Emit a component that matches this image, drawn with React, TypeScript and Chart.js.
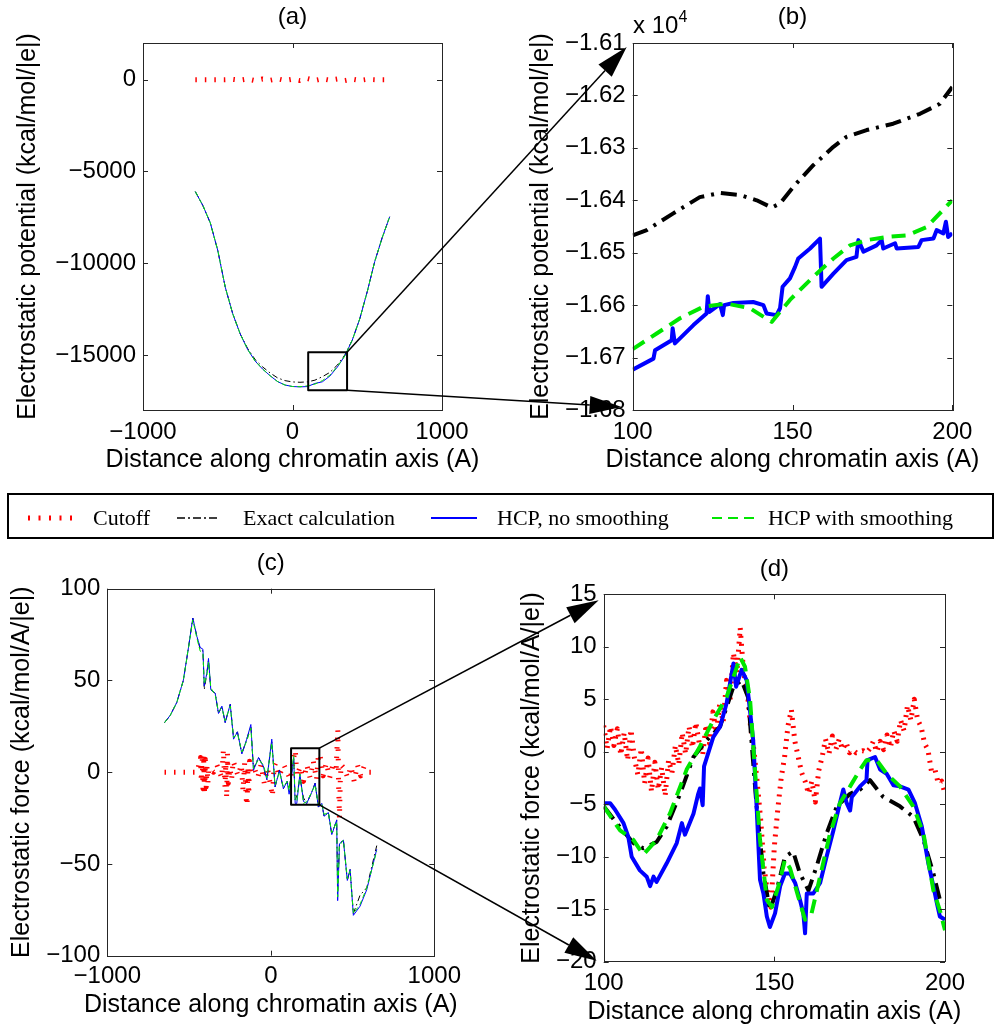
import React, { useEffect, useRef } from 'react';
import { Chart, registerables } from 'chart.js';

Chart.register(...registerables);

// ---------------- DATA ----------------
// Panel (a): potential, full range
const aX = [-650, -600, -550, -500, -450, -400, -350, -300, -250, -200, -150, -100, -50, 0, 50, 100, 150, 200, 250, 300, 350, 400, 450, 500, 550, 600, 650];
const aCut = [0, 0, 0, 0, 0, 20, -30, 40, -50, 40, -30, 50, -40, 30, -50, 60, -40, 50, -30, 40, -50, 30, -40, 20, 0, 0, 0];
const aExact = [-6100, -6850, -7800, -9300, -11300, -12750, -13850, -14650, -15250, -15650, -15980, -16250, -16400, -16470, -16490, -16467, -16374, -16184, -15950, -15550, -15000, -14190, -13030, -11550, -9910, -8610, -7470];
const aHcp = [-6100, -6850, -7800, -9300, -11300, -12750, -13850, -14700, -15330, -15770, -16130, -16450, -16640, -16720, -16740, -16723, -16555, -16463, -16150, -15660, -15050, -14190, -13030, -11550, -9910, -8610, -7470];
const aSmooth = [-6100, -6850, -7800, -9300, -11300, -12750, -13850, -14700, -15330, -15770, -16130, -16450, -16640, -16720, -16730, -16684, -16590, -16400, -16100, -15640, -15050, -14190, -13030, -11550, -9910, -8610, -7470];
const aRectX = [105, 365, 365, 105, 105];
const aRectY = [-16920, -16920, -14855, -14855, -16920];
const aXTicks = [-1000, 0, 1000];
const aYTicks = [0, -5000, -10000, -15000];

// Panel (b): potential, zoom 100..200
const bExactX = [100, 104.4, 112.7, 121, 127.3, 133.6, 138.8, 143.5, 146.1, 150.3, 156.5, 162.8, 166.9, 173.2, 181.5, 189.9, 196.1, 200];
const bExact = [-16467, -16457, -16425, -16394, -16386, -16390, -16400, -16414, -16406, -16374, -16333, -16298, -16279, -16266, -16254, -16235, -16216, -16184];
const bHcpX = [100, 106.5, 107, 112.2, 112.5, 113.2, 119, 123.1, 123.5, 124, 127.3, 128.2, 128.6, 131.5, 137.7, 140.9, 141.9, 145, 146.1, 146.9, 149.2, 150.8, 151.8, 155.5, 158.6, 159.1, 162.8, 166.9, 170, 170.6, 172.2, 176.3, 177.9, 178.4, 182.1, 182.6, 189.4, 190.4, 194.1, 195.1, 197.2, 198, 198.7, 200];
const bHcp = [-16723, -16702, -16686, -16667, -16644, -16673, -16638, -16616, -16583, -16613, -16598, -16619, -16600, -16596, -16594, -16600, -16616, -16619, -16606, -16565, -16549, -16527, -16511, -16492, -16473, -16565, -16540, -16514, -16508, -16476, -16498, -16486, -16476, -16492, -16482, -16492, -16489, -16476, -16473, -16457, -16463, -16441, -16470, -16463];
const bSmoothX = [100, 107.5, 114.8, 122.1, 129.4, 136.7, 143.5, 149.2, 156.5, 162.8, 168, 173.2, 179.5, 185.8, 192, 200];
const bSmooth = [-16684, -16654, -16625, -16603, -16597, -16606, -16632, -16590, -16546, -16511, -16486, -16476, -16470, -16467, -16451, -16400];
const bXTicks = [100, 150, 200];
const bYTicks = [-16100, -16200, -16300, -16400, -16500, -16600, -16700, -16800];

// Panel (c): force, full range
const cX = [-650, -615, -575, -535, -505, -477, -452, -432, -415, -407, -391, -381, -367, -340, -320, -299, -279, -248, -228, -204, -177, -147, -122, -106, -75, -45, -24, 6, 26, 53, 77, 100, 112, 125, 140, 149, 159, 178, 200, 220, 250, 271, 291, 312, 326, 352, 373, 403, 409, 420, 444, 468, 485, 505, 546, 587, 648];
const cHcp = [27, 31, 38, 50, 67, 84, 74, 68, 67, 47, 54, 62, 45, 43, 32, 36, 27, 37, 18, 22, 10, 18, 26, 1, 8, 3, -4, 18, -8, 1, -9, -5, -12, -4, 8, -17, -17, -1, -16, -17, -11, -6, -19, -17, -24, -22, -34, -26, -70, -39, -37, -59, -53, -78, -73, -64, -42];
const cSmooth = [27, 31, 38, 50, 67, 83, 73, 66, 65, 48, 53, 60, 46, 42, 33, 35, 28, 36, 19, 21, 11, 17, 24, 2, 7, 4, -3, 16, -7, 0, -8, -5, -10, -1, 9, -15, -16, -1, -17, -16, -11, -7, -18, -17, -23, -22, -33, -27, -68, -40, -37, -58, -54, -77, -72, -63, -43];
const cExact = [27, 31, 38, 50, 67, 84, 74, 67, 66, 45, 54, 61, 45, 43, 32, 36, 27, 37, 19, 22, 10, 18, 25, 2, 8, 3, -4, 17, -8, 1, -9, -5, -9, -1, 7, -15, -13, -3, -14, -17, -11, -6, -19, -17, -24, -22, -34, -26, -65, -39, -37, -59, -53, -77, -67, -63, -40];
const cCutX = [-650, -600, -550, -500, -450, -430, -425, -420, -415, -410, -405, -400, -395, -390, -385, -380, -350, -330, -300, -290, -280, -275, -270, -265, -260, -250, -240, -230, -200, -180, -170, -160, -150, -145, -140, -135, -130, -120, -100, -80, -60, -40, -20, 0, 10, 20, 30, 50, 80, 100, 120, 140, 150, 160, 180, 200, 220, 240, 260, 280, 290, 300, 320, 340, 360, 380, 400, 405, 410, 415, 420, 425, 430, 450, 470, 490, 510, 530, 550, 570, 600, 650];
const cCut = [0, 0, 0, 0, 0, 8, -5, 10, -9, 6, -12, 7, -8, 3, -6, 2, 0, 4, -3, 12, -8, 5, -14, 10, -6, 2, -4, 6, -2, 4, -10, 5, -15, -18, 3, -12, 6, 0, 2, -3, 4, -6, 2, -8, -13, 3, 5, -2, 4, 0, -4, 8, 12, -2, 3, -5, 4, -3, 6, -4, 8, 10, -2, 5, -3, 4, 2, 13, 23, -8, -25, -5, 4, 2, -3, 3, -5, 4, -2, 3, 0, 0];
const cRectX = [124, 297, 297, 124, 124];
const cRectY = [-17.8, -17.8, 13.1, 13.1, -17.8];
const cXTicks = [-1000, 0, 1000];
const cYTicks = [100, 50, 0, -50, -100];

// Panel (d): force, zoom 100..200
const dCutX = [100, 101, 102, 103, 104, 105, 106, 107, 108, 109, 110, 111, 112, 113, 114, 115, 116, 117, 118, 119, 120, 121, 122, 123, 124, 125, 126, 127, 128, 129, 130, 131, 132, 133, 134, 135, 136, 137, 138, 139, 140, 141, 142, 143, 144, 145, 146, 147, 148, 149, 150, 151, 152, 153, 154, 155, 156, 157, 158, 159, 160, 161, 162, 163, 164, 165, 166, 167, 168, 169, 170, 171, 172, 173, 174, 175, 176, 177, 178, 179, 180, 181, 182, 183, 184, 185, 186, 187, 188, 189, 190, 191, 192, 193, 194, 195, 196, 197, 198, 199, 200];
const dCut = [2.5, 0.3, 2.4, 0.6, 2.2, -0.3, 1.8, -0.8, 2.1, -0.6, -2.2, 0.3, -3.0, -0.6, -3.8, -1.0, -3.6, -1.5, -4.2, -0.8, -2.0, 0.6, -1.2, 1.8, -0.2, 2.4, 0.4, 2.8, 0.8, -0.3, 2.6, 0.8, 3.8, 1.8, 4.6, 2.8, 6.8, 4.8, 9.4, 7.5, 11.8, 7.5, 6.0, 2.5, 0.2, -3.0, -6.5, -11.0, -13.5, -14.8, -9.0, -5.5, -2.5, -0.5, 2.5, 4.0, 1.0, -0.5, -2.0, -2.8, -4.0, -2.8, -4.8, -1.8, -0.5, 1.2, -0.2, 1.5, 0.2, 1.2, 0.2, 0.9, -0.1, 0.2, -0.1, 0.0, 0.1, -0.1, 0.3, 1.0, 0.0, 1.0, 0.2, 1.6, 0.4, 2.0, 1.0, 3.0, 2.0, 4.4, 3.0, 5.0, 3.0, 2.4, 0.8, 0.2, -1.8, -1.6, -3.0, -2.8, -4.0];
const dExactX = [100, 103.8, 108.7, 111.6, 115.5, 118.5, 122.4, 126.3, 130.2, 134.1, 138, 140.4, 142.3, 144.8, 146.8, 148.7, 150.7, 153.1, 155.5, 157.5, 160, 162.4, 165.3, 168.3, 172.2, 175.1, 178, 181.9, 186.8, 190.7, 193.7, 196.6, 198.5, 200];
const dExact = [-5.2, -6.8, -8.7, -9.2, -8.6, -7.1, -4, -0.5, 1.1, 2.4, 6.2, 6.8, 5.2, -5.2, -11.6, -15.1, -13.2, -10, -9.5, -11.6, -13.2, -10.9, -7.8, -5.2, -4, -3.6, -2.7, -4.3, -5.2, -6.2, -8.4, -11.6, -14.1, -14.4];
const dHcpX = [100, 101.9, 103.3, 105.8, 107.2, 108.2, 110.6, 112.6, 113.6, 114.6, 115.5, 118.5, 121.4, 122.9, 123.8, 126.3, 127.7, 128.2, 129, 129.4, 132.1, 134.1, 136, 138, 138.8, 140.4, 141.9, 143.8, 144.8, 145.8, 146.8, 147.8, 148.7, 150.2, 151.7, 153.1, 154.6, 156.1, 157.5, 158.5, 159, 159.5, 161.4, 163.4, 165.3, 167.3, 169.2, 170.2, 171.2, 172.2, 172.7, 175.1, 177, 177.3, 179.5, 181, 182.9, 184.9, 186.8, 189.3, 191.2, 193.2, 195.1, 196.6, 197.6, 198.5, 200];
const dHcp = [-4.9, -4.9, -5.5, -6.8, -8.1, -10, -11.3, -11.9, -12.8, -11.9, -12.4, -10.6, -8.7, -6.8, -7.9, -5.9, -4, -3.5, -5.1, -1.4, 1.4, 2.4, 4.6, 8.4, 6.2, 7.8, 6.8, 1.1, -5.2, -12.2, -13.5, -15.7, -16.7, -15.4, -12.8, -11.6, -11.6, -12.5, -14.1, -15.4, -17.3, -13.5, -13.5, -12.5, -10, -7.5, -4.9, -3.6, -4.9, -5.6, -4.3, -3.3, -2.7, -0.8, -0.5, -1.7, -2.1, -3.2, -3.3, -3.6, -4.9, -7.1, -10.6, -12.8, -14.4, -15.7, -16];
const dSmoothX = [100, 104.8, 108.7, 111.6, 115.5, 119.4, 124.3, 128.2, 132.1, 136, 140, 141.4, 142.9, 144.4, 145.8, 147.8, 149.3, 151.2, 153.1, 154.6, 157, 159, 160.9, 163.4, 166.3, 169.2, 172.2, 175.1, 177, 180, 182.9, 186.8, 190.7, 193.7, 196.6, 198.5, 200];
const dSmooth = [-5.2, -7.5, -8.4, -9.8, -8.4, -5.9, -1.7, 0.5, 3, 5.2, 9, 8.1, 4.9, -2.1, -8.4, -14.1, -14.8, -12.8, -10.3, -11.1, -13.8, -16, -15.4, -11.9, -7.8, -4.9, -3.3, -1.7, -0.8, -0.8, -2.1, -3.3, -5.2, -7.8, -13.2, -15.1, -17];
const dXTicks = [100, 150, 200];
const dYTicks = [15, 10, 5, 0, -5, -10, -15, -20];

const LEGEND_LABELS = ['Cutoff', 'Exact calculation', 'HCP, no smoothing', 'HCP with smoothing'];
const X_TITLE = 'Distance along chromatin axis (A)';
const Y_TITLE_POT = 'Electrostatic potential (kcal/mol/|e|)';
const Y_TITLE_FORCE = 'Electrostatic force (kcal/mol/A/|e|)';

// ---------------- STYLE ----------------
const SANS = "'Liberation Sans', Arial, Helvetica, sans-serif";
const SERIF = "'Liberation Serif', 'Times New Roman', serif";
const RED = '#ff0000';
const BLACK = '#000000';
const BLUE = '#0000ff';
const GREEN = '#00e600';

const zip = (xs: number[], ys: number[]) => xs.map((x, i) => ({ x, y: ys[i] }));
const minus = (v: number) => (v < 0 ? '\u2212' + String(Math.abs(v)) : String(v));

const thin = {
  cut: { borderColor: RED, borderWidth: 5, borderDash: [1.5, 8] },
  exact: { borderColor: BLACK, borderWidth: 1, borderDash: [6, 3, 1.5, 3] },
  hcp: { borderColor: BLUE, borderWidth: 1 },
  smooth: { borderColor: GREEN, borderWidth: 1, borderDash: [5, 3] },
};
const thick = {
  cut: { borderColor: RED, borderWidth: 5, borderDash: [2, 6] },
  exact: { borderColor: BLACK, borderWidth: 4, borderDash: [16, 7, 3, 7] },
  hcp: { borderColor: BLUE, borderWidth: 4 },
  smooth: { borderColor: GREEN, borderWidth: 4, borderDash: [14, 8] },
};
const rectStyle = { borderColor: BLACK, borderWidth: 2 };

const framePlugin = {
  id: 'matlabFrame',
  afterDatasetsDraw(chart: any) {
    const { ctx, chartArea, scales } = chart;
    const { left, top, right, bottom } = chartArea;
    ctx.save();
    ctx.strokeStyle = '#262626';
    ctx.lineWidth = 1;
    ctx.strokeRect(Math.round(left) + 0.5, Math.round(top) + 0.5, Math.round(right - left), Math.round(bottom - top));
    const L = 5;
    ctx.beginPath();
    scales.x.ticks.forEach((t: any) => {
      const px = Math.round(scales.x.getPixelForValue(t.value)) + 0.5;
      ctx.moveTo(px, bottom); ctx.lineTo(px, bottom - L);
      ctx.moveTo(px, top); ctx.lineTo(px, top + L);
    });
    scales.y.ticks.forEach((t: any) => {
      const py = Math.round(scales.y.getPixelForValue(t.value)) + 0.5;
      ctx.moveTo(left, py); ctx.lineTo(left + L, py);
      ctx.moveTo(right, py); ctx.lineTo(right - L, py);
    });
    ctx.stroke();
    ctx.restore();
  },
};

// Axis titles drawn without Chart.js' maxWidth squeeze (the reference text overhangs the axes)
const axisTitlePlugin = {
  id: 'axisTitles',
  afterDraw(chart: any, _args: any, opts: any) {
    const { ctx, chartArea } = chart;
    ctx.save();
    ctx.fillStyle = '#000';
    ctx.font = `25px ${SANS}`;
    ctx.textAlign = 'center';
    ctx.textBaseline = 'middle';
    ctx.fillText(opts.xText, (chartArea.left + chartArea.right) / 2, opts.xTitleY);
    ctx.translate(opts.yTitleX, (chartArea.top + chartArea.bottom) / 2);
    ctx.rotate(-Math.PI / 2);
    ctx.fillText(opts.yText, 0, 0);
    ctx.restore();
  },
};

type Panel = {
  left: number; top: number; w: number; h: number;
  areaL: number; areaR: number;
  titleTop: number; titleBottom: number;
  yTitleX: number; xTickPad: number; xTitleY: number; xAxisH: number;
  title: string; yTitle: string;
  xMin: number; xMax: number; yMin: number; yMax: number;
  xTicks: number[]; yTicks: number[];
  yFmt: (v: number) => string;
  datasets: any[];
};

const PANELS: Panel[] = [
  {
    left: 0, top: 0, w: 500, h: 485, areaL: 143, areaR: 442,
    titleTop: 2.6, titleBottom: 11.6, yTitleX: 28, xTickPad: 7.6, xTitleY: 460, xAxisH: 75,
    title: '(a)', yTitle: Y_TITLE_POT, xMin: -1000, xMax: 1000, yMin: -18000, yMax: 2000,
    xTicks: aXTicks, yTicks: aYTicks, yFmt: minus,
    datasets: [
      { data: zip(aRectX, aRectY), ...rectStyle },
      { data: zip(aX, aSmooth), ...thin.smooth },
      { data: zip(aX, aHcp), ...thin.hcp },
      { data: zip(aX, aExact), ...thin.exact },
      { data: zip(aX, aCut), ...thin.cut },
    ],
  },
  {
    left: 485, top: 0, w: 520, h: 485, areaL: 147.7, areaR: 467.3,
    titleTop: 2.6, titleBottom: 11.6, yTitleX: 56, xTickPad: 7.6, xTitleY: 460, xAxisH: 75,
    title: '(b)', yTitle: Y_TITLE_POT, xMin: 100, xMax: 200, yMin: -16800, yMax: -16100,
    xTicks: bXTicks, yTicks: bYTicks, yFmt: (v: number) => '\u2212' + (Math.abs(v) / 1e4).toFixed(2),
    datasets: [
      { data: zip(bSmoothX, bSmooth), ...thick.smooth },
      { data: zip(bHcpX, bHcp), ...thick.hcp },
      { data: zip(bExactX, bExact), ...thick.exact },
    ],
  },
  {
    left: 0, top: 540, w: 500, h: 494, areaL: 107.3, areaR: 434.3,
    titleTop: 8.9, titleBottom: 11, yTitleX: 22.5, xTickPad: 6.6, xTitleY: 465, xAxisH: 78.3,
    title: '(c)', yTitle: Y_TITLE_FORCE, xMin: -1000, xMax: 1000, yMin: -100, yMax: 100,
    xTicks: cXTicks, yTicks: cYTicks, yFmt: minus,
    datasets: [
      { data: zip(cRectX, cRectY), ...rectStyle },
      { data: zip(cX, cSmooth), ...thin.smooth },
      { data: zip(cX, cHcp), ...thin.hcp },
      { data: zip(cX, cExact), ...thin.exact },
      { data: zip(cCutX, cCut), ...thin.cut },
    ],
  },
  {
    left: 485, top: 540, w: 520, h: 494, areaL: 118.7, areaR: 460,
    titleTop: 14.9, titleBottom: 10.6, yTitleX: 47.5, xTickPad: 7.2, xTitleY: 471.7, xAxisH: 72.3,
    title: '(d)', yTitle: Y_TITLE_FORCE, xMin: 100, xMax: 200, yMin: -20, yMax: 15,
    xTicks: dXTicks, yTicks: dYTicks, yFmt: minus,
    datasets: [
      { data: zip(dSmoothX, dSmooth), ...thick.smooth },
      { data: zip(dHcpX, dHcp), ...thick.hcp },
      { data: zip(dExactX, dExact), ...thick.exact },
      { data: zip(dCutX, dCut), ...thick.cut },
    ],
  },
];

function makeConfig(p: Panel): any {
  const font = { family: SANS, size: 24, weight: 'normal' as const };
  return {
    type: 'line',
    data: {
      datasets: p.datasets.map((d) => ({
        ...d, fill: false, pointRadius: 0, tension: 0, borderCapStyle: 'butt', borderJoinStyle: 'round',
      })),
    },
    options: {
      responsive: false,
      animation: false,
      devicePixelRatio: 1,
      events: [],
      layout: { padding: { left: 0, top: 0, bottom: 0, right: p.w - p.areaR } },
      plugins: {
        legend: { display: false },
        tooltip: { enabled: false },
        title: {
          display: true, text: p.title, fullSize: false, color: '#000', font,
          padding: { top: p.titleTop, bottom: p.titleBottom },
        },
        axisTitles: { xText: X_TITLE, yText: p.yTitle, xTitleY: p.xTitleY, yTitleX: p.yTitleX },
      },
      scales: {
        x: {
          type: 'linear', min: p.xMin, max: p.xMax,
          afterBuildTicks: (s: any) => { s.ticks = p.xTicks.map((v) => ({ value: v })); },
          afterFit: (s: any) => { s.height = p.xAxisH; },
          grid: { display: false, drawTicks: false },
          border: { display: false },
          ticks: { autoSkip: false, maxRotation: 0, minRotation: 0, padding: p.xTickPad, color: '#000', font, callback: (v: any) => minus(Number(v)) },
          title: { display: false },
        },
        y: {
          type: 'linear', min: p.yMin, max: p.yMax,
          afterBuildTicks: (s: any) => { s.ticks = p.yTicks.map((v) => ({ value: v })); },
          afterFit: (s: any) => { s.width = p.areaL; },
          grid: { display: false, drawTicks: false },
          border: { display: false },
          ticks: { autoSkip: false, padding: 7, color: '#000', font, callback: (v: any) => p.yFmt(Number(v)) },
          title: { display: false },
        },
      },
    },
    plugins: [framePlugin, axisTitlePlugin],
  };
}

function drawArrow(ctx: CanvasRenderingContext2D, x1: number, y1: number, x2: number, y2: number) {
  const ang = Math.atan2(y2 - y1, x2 - x1);
  const len = 32;
  const hw = 9;
  const bx = x2 - len * Math.cos(ang);
  const by = y2 - len * Math.sin(ang);
  ctx.beginPath();
  ctx.moveTo(x1, y1);
  ctx.lineTo(bx, by);
  ctx.stroke();
  ctx.beginPath();
  ctx.moveTo(x2, y2);
  ctx.lineTo(bx + hw * Math.sin(ang), by - hw * Math.cos(ang));
  ctx.lineTo(bx - hw * Math.sin(ang), by + hw * Math.cos(ang));
  ctx.closePath();
  ctx.fill();
}

export default function App() {
  const refA = useRef<HTMLCanvasElement>(null);
  const refB = useRef<HTMLCanvasElement>(null);
  const refC = useRef<HTMLCanvasElement>(null);
  const refD = useRef<HTMLCanvasElement>(null);
  const refO = useRef<HTMLCanvasElement>(null);
  const refs = [refA, refB, refC, refD];

  useEffect(() => {
    const charts = PANELS.map((p, i) => new Chart(refs[i].current as HTMLCanvasElement, makeConfig(p)));
    const ov = refO.current?.getContext('2d');
    if (ov) {
      ov.clearRect(0, 0, 1005, 1034);
      ov.strokeStyle = '#000';
      ov.fillStyle = '#000';
      ov.lineWidth = 1.5;
      const [ca, cb, cc, cd] = charts as any[];
      const [pa, pb, pc, pd] = PANELS;
      const P = (ch: any, p: Panel, x: number, y: number) => [p.left + ch.scales.x.getPixelForValue(x), p.top + ch.scales.y.getPixelForValue(y)];
      const s1 = P(ca, pa, aRectX[1], aRectY[2]);
      const s2 = P(ca, pa, aRectX[1], aRectY[0]);
      drawArrow(ov, s1[0], s1[1], pb.left + cb.chartArea.left - 6, pb.top + cb.chartArea.top + 4);
      drawArrow(ov, s2[0], s2[1], pb.left + cb.chartArea.left - 11, pb.top + cb.chartArea.bottom - 3);
      const s3 = P(cc, pc, cRectX[1], cRectY[2]);
      const s4 = P(cc, pc, cRectX[1], cRectY[0]);
      drawArrow(ov, s3[0], s3[1], pd.left + cd.chartArea.left - 5, pd.top + cd.chartArea.top + 6);
      drawArrow(ov, s4[0], s4[1], pd.left + cd.chartArea.left - 7, pd.top + cd.chartArea.bottom - 1);
    }
    return () => { charts.forEach((c) => c.destroy()); };
  }, []);

  const legendText = (text: string, left: number) => (
    <span key={text} style={{ position: 'absolute', left, top: 507, font: `22px ${SERIF}`, lineHeight: '22px', whiteSpace: 'nowrap', color: '#000' }}>{text}</span>
  );

  return (
    <div style={{ position: 'absolute', left: 0, top: 0, width: 1005, height: 1034, background: '#fff', overflow: 'hidden' }}>
      {PANELS.map((p, i) => (
        <canvas key={i} ref={refs[i]} width={p.w} height={p.h}
          style={{ position: 'absolute', left: p.left, top: p.top, width: p.w, height: p.h }} />
      ))}
      <div style={{ position: 'absolute', left: 633, top: 10, font: `24px ${SANS}`, lineHeight: '30px', color: '#000', whiteSpace: 'nowrap' }}>
        x 10<sup style={{ fontSize: 16, verticalAlign: 'top', position: 'relative', top: -8 }}>4</sup>
      </div>
      <div style={{ position: 'absolute', left: 7, top: 493, width: 987, height: 46, border: '2px solid #000', boxSizing: 'border-box', background: '#fff' }} />
      <svg width={1005} height={1034} style={{ position: 'absolute', left: 0, top: 0, pointerEvents: 'none' }}>
        <line x1={28} y1={518} x2={73} y2={518} stroke={RED} strokeWidth={5} strokeDasharray="2 8.5" />
        <line x1={177} y1={518} x2={220} y2={518} stroke={BLACK} strokeWidth={1.5} strokeDasharray="8 3 2 3" />
        <line x1={431} y1={518} x2={477} y2={518} stroke={BLUE} strokeWidth={2} />
        <line x1={712} y1={518} x2={758} y2={518} stroke={GREEN} strokeWidth={2} strokeDasharray="10 6" />
      </svg>
      {legendText(LEGEND_LABELS[0], 93)}
      {legendText(LEGEND_LABELS[1], 243)}
      {legendText(LEGEND_LABELS[2], 497)}
      {legendText(LEGEND_LABELS[3], 768)}
      <canvas ref={refO} width={1005} height={1034} style={{ position: 'absolute', left: 0, top: 0, width: 1005, height: 1034, pointerEvents: 'none' }} />
    </div>
  );
}
